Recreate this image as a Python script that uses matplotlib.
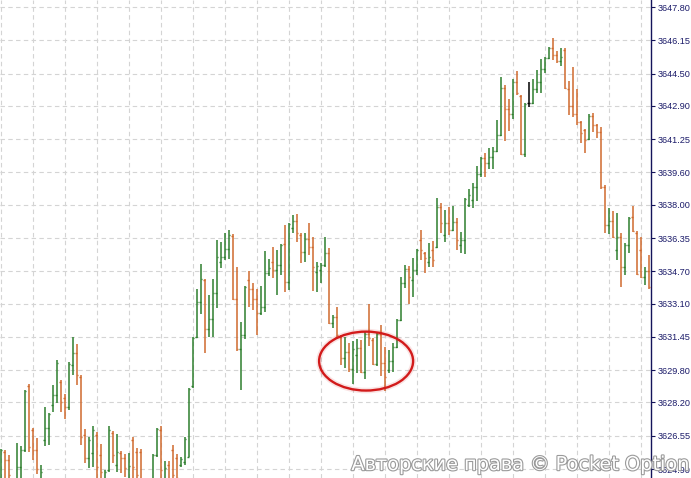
import matplotlib
matplotlib.use("Agg")
import matplotlib.pyplot as plt
import matplotlib.patheffects as pe
from matplotlib.patches import Ellipse
import numpy as np

# OHLC bars (one bar per slot, left to right)
opens = [3624.11, 3625.74, 3625.35, 3623.61, 3624.11, 3625.00, 3625.84, 3629.01, 3626.83, 3625.84,
         3624.11, 3626.34, 3626.93, 3628.07, 3628.57, 3629.21, 3628.42, 3627.97, 3630.06, 3630.65,
         3629.46, 3626.59, 3625.45, 3625.69, 3626.59, 3625.59, 3623.96, 3624.85, 3626.69, 3625.10,
         3625.69, 3625.45, 3624.35, 3626.34, 3625.74, 3625.74, 3623.61, 3624.11, 3624.35, 3625.59,
         3626.83, 3624.35, 3625.10, 3625.84, 3625.45, 3625.10, 3625.25, 3625.50, 3629.01, 3631.44,
         3633.18, 3634.27, 3631.84, 3632.34, 3633.62, 3635.16, 3635.41, 3635.80, 3636.45, 3633.33,
         3630.85, 3631.54, 3634.27, 3633.82, 3633.33, 3632.63, 3632.93, 3634.62, 3635.16, 3634.76,
         3635.01, 3636.05, 3634.17, 3636.85, 3637.19, 3636.50, 3635.66, 3636.30, 3635.90, 3634.67,
         3634.76, 3635.01, 3635.61, 3632.14, 3632.44, 3631.44, 3630.40, 3630.70, 3629.86, 3630.55,
         3630.90, 3629.71, 3631.59, 3631.29, 3630.11, 3631.59, 3630.15, 3629.81, 3630.25, 3630.95,
         3632.29, 3634.12, 3634.81, 3634.27, 3634.76, 3636.25, 3635.61, 3635.16, 3635.76, 3635.90,
         3637.89, 3636.50, 3637.09, 3636.75, 3637.14, 3636.00, 3636.25, 3637.99, 3638.23, 3638.88,
         3639.52, 3640.32, 3640.07, 3640.37, 3640.66, 3641.46, 3643.79, 3642.74, 3642.50, 3644.08,
         3643.39, 3640.51, 3643.04, 3643.04, 3643.74, 3644.08, 3644.73, 3645.27, 3645.77, 3645.42,
         3645.12, 3645.67, 3643.74, 3642.89, 3642.50, 3642.10, 3641.70, 3641.26, 3642.40, 3641.95,
         3641.60, 3638.88, 3636.99, 3637.19, 3635.76, 3636.40, 3634.91, 3636.00, 3637.39, 3636.60,
         3635.76, 3634.42, 3634.71]
highs = [3625.89, 3625.84, 3625.59, 3624.35, 3626.19, 3626.04, 3628.82, 3629.11, 3626.93, 3626.44,
         3625.10, 3627.97, 3627.68, 3629.06, 3630.30, 3629.31, 3628.62, 3630.20, 3631.44, 3631.10,
         3629.56, 3626.88, 3626.49, 3627.03, 3626.73, 3626.14, 3624.85, 3627.03, 3626.78, 3626.64,
         3625.79, 3625.64, 3625.69, 3626.49, 3625.94, 3625.89, 3624.35, 3624.26, 3625.64, 3626.93,
         3627.03, 3625.30, 3625.30, 3626.09, 3625.64, 3625.50, 3626.49, 3628.92, 3631.44, 3633.82,
         3635.06, 3634.32, 3633.53, 3634.32, 3636.25, 3636.15, 3636.60, 3636.75, 3636.55, 3634.91,
         3632.19, 3633.97, 3634.71, 3634.12, 3633.82, 3633.97, 3635.71, 3635.31, 3635.90, 3635.76,
         3636.05, 3636.99, 3637.09, 3637.49, 3637.54, 3636.60, 3636.60, 3637.09, 3636.40, 3635.16,
         3635.11, 3636.40, 3635.85, 3632.53, 3632.93, 3631.54, 3631.44, 3631.15, 3631.24, 3631.34,
         3631.29, 3631.74, 3633.08, 3631.39, 3631.64, 3632.04, 3630.95, 3630.80, 3631.15, 3632.34,
         3634.42, 3635.01, 3634.96, 3635.36, 3635.80, 3636.75, 3635.66, 3636.10, 3636.20, 3638.33,
         3638.09, 3637.74, 3637.89, 3637.94, 3637.34, 3636.65, 3638.33, 3638.78, 3639.08, 3639.92,
         3640.37, 3640.56, 3640.81, 3640.86, 3642.20, 3644.33, 3643.93, 3643.24, 3644.23, 3644.63,
         3643.44, 3643.04, 3644.08, 3644.23, 3644.68, 3645.22, 3645.32, 3645.82, 3646.26, 3645.62,
         3645.77, 3645.77, 3644.13, 3644.83, 3643.74, 3642.15, 3641.75, 3642.50, 3642.55, 3642.00,
         3641.85, 3638.98, 3637.84, 3637.69, 3637.59, 3636.60, 3636.10, 3637.39, 3637.94, 3636.70,
         3636.40, 3634.91, 3635.51]
lows = [3623.86, 3624.11, 3623.86, 3623.36, 3623.86, 3624.35, 3625.74, 3625.74, 3625.35, 3624.65,
        3623.86, 3626.04, 3626.09, 3627.73, 3628.17, 3627.73, 3627.38, 3627.83, 3629.56, 3629.06,
        3626.09, 3625.20, 3624.95, 3625.00, 3624.11, 3623.86, 3623.61, 3624.75, 3625.20, 3624.75,
        3624.70, 3624.50, 3624.11, 3623.86, 3623.86, 3623.76, 3623.36, 3623.36, 3623.86, 3625.50,
        3623.86, 3623.86, 3623.76, 3623.86, 3623.86, 3625.00, 3625.10, 3625.50, 3628.92, 3631.39,
        3632.58, 3630.65, 3631.44, 3631.44, 3632.88, 3634.86, 3635.26, 3635.31, 3633.28, 3630.75,
        3628.82, 3631.34, 3632.93, 3632.78, 3631.54, 3632.53, 3632.68, 3634.47, 3634.37, 3633.53,
        3634.52, 3633.67, 3633.77, 3636.60, 3636.15, 3635.11, 3635.16, 3635.51, 3633.72, 3633.67,
        3634.12, 3634.91, 3632.09, 3631.89, 3631.44, 3630.06, 3629.91, 3629.71, 3629.11, 3629.66,
        3629.66, 3629.36, 3631.00, 3630.06, 3630.01, 3629.51, 3628.77, 3629.66, 3629.71, 3630.90,
        3632.24, 3633.87, 3633.08, 3633.43, 3634.52, 3635.26, 3634.62, 3634.91, 3634.91, 3635.85,
        3636.60, 3636.15, 3636.50, 3636.70, 3635.76, 3635.61, 3635.56, 3637.89, 3637.84, 3638.18,
        3639.37, 3639.37, 3639.77, 3639.77, 3640.61, 3641.41, 3641.16, 3641.65, 3642.25, 3643.44,
        3640.46, 3640.37, 3642.84, 3642.99, 3643.54, 3643.54, 3644.53, 3645.22, 3645.17, 3645.02,
        3644.88, 3643.74, 3642.45, 3642.35, 3641.95, 3641.06, 3640.56, 3641.21, 3641.60, 3641.31,
        3638.78, 3636.60, 3636.55, 3636.35, 3635.26, 3633.92, 3634.52, 3635.61, 3636.65, 3634.52,
        3634.37, 3634.02, 3633.82]
closes = [3625.84, 3625.35, 3624.60, 3624.11, 3625.00, 3625.84, 3628.77, 3625.99, 3625.84, 3624.90,
          3624.75, 3626.93, 3627.63, 3628.57, 3630.15, 3628.22, 3627.97, 3630.11, 3630.65, 3629.56,
          3626.49, 3625.45, 3626.34, 3626.83, 3625.00, 3624.75, 3624.75, 3626.83, 3625.59, 3625.74,
          3625.45, 3624.95, 3625.05, 3625.00, 3624.60, 3624.35, 3624.11, 3623.61, 3625.59, 3626.88,
          3624.85, 3624.95, 3624.35, 3624.60, 3624.45, 3625.40, 3626.39, 3628.87, 3631.39, 3633.18,
          3634.32, 3631.84, 3632.34, 3633.62, 3635.41, 3635.41, 3635.80, 3636.50, 3633.33, 3630.85,
          3631.54, 3633.92, 3633.82, 3633.33, 3632.63, 3632.93, 3634.62, 3634.86, 3634.76, 3635.01,
          3636.00, 3634.17, 3637.04, 3637.19, 3636.60, 3635.66, 3636.30, 3635.90, 3634.91, 3634.96,
          3635.01, 3635.61, 3632.14, 3632.44, 3631.54, 3630.40, 3630.70, 3629.86, 3630.85, 3630.90,
          3629.71, 3631.59, 3631.39, 3630.11, 3631.59, 3630.15, 3629.46, 3630.25, 3630.95, 3632.29,
          3634.12, 3634.81, 3634.42, 3634.76, 3635.76, 3635.76, 3635.36, 3635.41, 3635.26, 3637.89,
          3637.09, 3637.09, 3636.75, 3637.14, 3636.25, 3636.25, 3638.28, 3638.48, 3638.88, 3639.52,
          3640.32, 3640.07, 3640.37, 3640.66, 3641.46, 3643.79, 3642.74, 3642.50, 3644.08, 3643.54,
          3640.51, 3642.99, 3643.04, 3643.74, 3644.08, 3644.73, 3645.27, 3645.77, 3645.42, 3645.12,
          3645.32, 3643.79, 3642.89, 3642.50, 3642.10, 3641.55, 3641.21, 3642.40, 3641.95, 3641.60,
          3638.88, 3636.99, 3637.19, 3636.40, 3636.40, 3634.91, 3636.00, 3637.34, 3636.70, 3634.57,
          3634.42, 3634.71, 3633.92]

price_labels = ["3624.90", "3626.55", "3628.20", "3629.80", "3631.45", "3633.10", "3634.70",
                "3636.35", "3638.00", "3639.60", "3641.25", "3642.90", "3644.50", "3646.15", "3647.80"]
watermark = "Авторские права © Pocket Option"

UP = "#2e7f2e"
DOWN = "#d06a2e"
FLAT = "#000000"

fig = plt.figure(figsize=(6.91, 4.78), dpi=100)
ax = fig.add_axes([0, 0, 651 / 691, 1])

x = np.arange(len(opens))
o = np.array(opens); h = np.array(highs); l = np.array(lows); c = np.array(closes)
cols = [UP if cc > oo else DOWN if cc < oo else FLAT for oo, cc in zip(o, c)]

ax.vlines(x, l, h, colors=cols, lw=1.1, capstyle="butt", zorder=3)
ax.hlines(o, x - 0.4, x, colors=cols, lw=1.0, zorder=3)
ax.hlines(c, x, x + 0.4, colors=cols, lw=1.0, zorder=3)

# circled consolidation zone
ax.add_patch(Ellipse((91.4, 3630.25), 23.5, 2.92, fill=False, ec="#d21a1a",
                     lw=1.7, zorder=4))
ax.add_patch(Ellipse((91.4, 3630.25), 23.5, 2.92, fill=False, ec="#d21a1a",
                     lw=4, alpha=0.12, zorder=4))

ax.set_xlim(-0.125, 162.625)
ax.set_ylim(3624.455, 3648.147)

ax.set_xticks(np.arange(0, 161, 8))
ax.set_yticks([float(v) for v in price_labels])
ax.set_yticklabels(price_labels, family="Liberation Sans")
ax.grid(True, color="#d4d4d4", ls=(0, (4, 3)), lw=0.8, zorder=0)

ax.yaxis.tick_right()
ax.tick_params(axis="x", length=0, labelbottom=False)
ax.tick_params(axis="y", direction="out", length=3, width=0.8, color="#14145a",
               labelsize=6.6, labelcolor="#1c1c6a", pad=1.5)
for s in ["top", "left", "bottom"]:
    ax.spines[s].set_visible(False)
ax.spines["right"].set_color("#14145a")
ax.spines["right"].set_linewidth(1.0)

fig.text(0.996, 0.028, watermark, ha="right", va="center", fontsize=13.9,
         color="white", zorder=10,
         path_effects=[pe.withStroke(linewidth=1.6, foreground="#9a9a9a")])

fig.savefig("out.png", dpi=100)
